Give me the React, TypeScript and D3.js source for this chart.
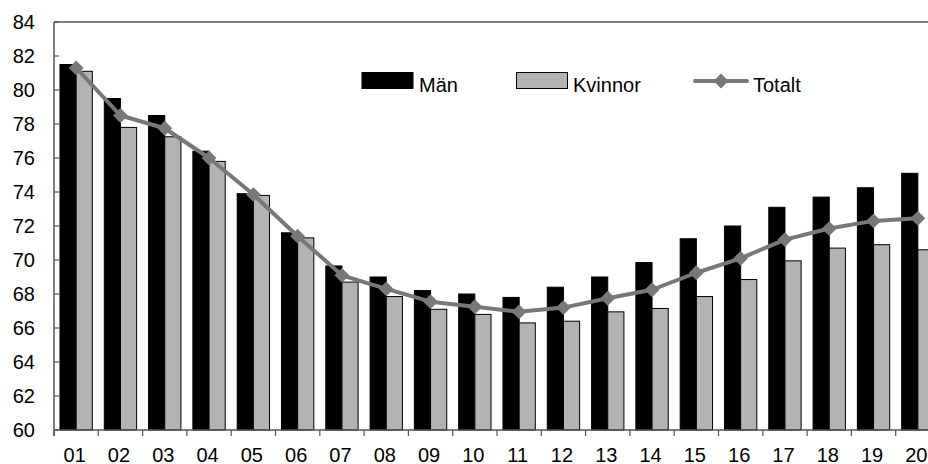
import React from "react";
import * as d3 from "d3";

const categories = ["01","02","03","04","05","06","07","08","09","10","11","12","13","14","15","16","17","18","19","20"];
const man = [81.5,79.5,78.5,76.4,73.9,71.6,69.65,69.0,68.2,68.0,67.8,68.4,69.0,69.85,71.25,72.0,73.1,73.7,74.25,75.1];
const kvinnor = [81.1,77.8,77.25,75.8,73.8,71.3,68.7,67.85,67.1,66.8,66.3,66.4,66.95,67.15,67.85,68.85,69.95,70.7,70.9,70.6];
const totalt = [81.3,78.5,77.75,76.0,73.85,71.4,69.1,68.3,67.55,67.25,66.95,67.2,67.75,68.25,69.25,70.1,71.2,71.85,72.3,72.45];
const yTicks = [60,62,64,66,68,70,72,74,76,78,80,82,84];
const seriesNames = ["Män","Kvinnor","Totalt"];

const W = 928, H = 464;
const left = 54, top = 22, bottom = 430, right = 940;
const FONT = "'Liberation Sans', Arial, sans-serif";
const FS = 20;
const GRAY_BAR = "#b3b3b3";
const LINE = "#787878";
const AXIS = "#555";

export default function App() {
  const x0 = d3.scaleBand<string>().domain(categories).range([left, right]).paddingInner(0.27).paddingOuter(0.135);
  const step = x0.step();
  const x1 = d3.scaleBand<string>().domain(["m","k"]).range([0, x0.bandwidth()]).padding(0);
  const y = d3.scaleLinear().domain([60, 84]).range([bottom, top]);
  const cx = (c: string) => (x0(c) as number) + x0.bandwidth() / 2;
  const linePath = d3.line<number>().x((_, i) => cx(categories[i])).y((d) => y(d))(totalt) || "";
  const diamond = d3.symbol().type(d3.symbolSquare).size(110)() || "";
  const boundaries = d3.range(categories.length + 1).map((i) => left + i * step);

  return (
    <svg width={W} height={H} style={{ position: "absolute", left: 0, top: 0, background: "#fff" }} fontFamily={FONT}>
      {categories.map((c, i) => (
        <g key={c}>
          <rect x={(x0(c) as number) + (x1("m") as number)} y={y(man[i])} width={x1.bandwidth()} height={bottom - y(man[i])} fill="#000" stroke="#000" strokeWidth={1} />
          <rect x={(x0(c) as number) + (x1("k") as number)} y={y(kvinnor[i])} width={x1.bandwidth()} height={bottom - y(kvinnor[i])} fill={GRAY_BAR} stroke="#000" strokeWidth={1} />
        </g>
      ))}
      <line x1={left} x2={right} y1={top} y2={top} stroke="#000" strokeWidth={1.2} />
      <line x1={left} x2={left} y1={top} y2={bottom + 6} stroke={AXIS} strokeWidth={1.5} />
      <line x1={left} x2={right} y1={bottom} y2={bottom} stroke={AXIS} strokeWidth={1.5} />
      {yTicks.map((t) => (
        <g key={t}>
          <line x1={left} x2={left + 5} y1={y(t)} y2={y(t)} stroke={AXIS} strokeWidth={1.2} />
          <text x={35} y={y(t) + 7} textAnchor="end" fontSize={FS} fill="#000">{t}</text>
        </g>
      ))}
      {boundaries.map((b, i) => (
        <line key={i} x1={b} x2={b} y1={bottom} y2={bottom + 6} stroke={AXIS} strokeWidth={1.2} />
      ))}
      {categories.map((c) => (
        <text key={c} x={cx(c) - 1.5} y={461.5} textAnchor="middle" fontSize={FS} fill="#000">{c}</text>
      ))}
      <path d={linePath} fill="none" stroke={LINE} strokeWidth={4} strokeLinejoin="round" />
      {totalt.map((v, i) => (
        <path key={i} d={diamond} transform={`translate(${cx(categories[i])},${y(v)}) rotate(45)`} fill={LINE} />
      ))}
      <rect x={362} y={72.5} width={51} height={16} fill="#000" stroke="#000" />
      <text x={419} y={92.3} fontSize={FS}>{seriesNames[0]}</text>
      <rect x={516.5} y={72.5} width={51} height={16} fill={GRAY_BAR} stroke="#000" />
      <text x={573} y={92.3} fontSize={FS}>{seriesNames[1]}</text>
      <line x1={695} x2={747} y1={81} y2={81} stroke={LINE} strokeWidth={4} strokeLinecap="round" />
      <path d={diamond} transform={`translate(721,81) rotate(45)`} fill={LINE} />
      <text x={753} y={92.3} fontSize={FS}>{seriesNames[2]}</text>
    </svg>
  );
}
